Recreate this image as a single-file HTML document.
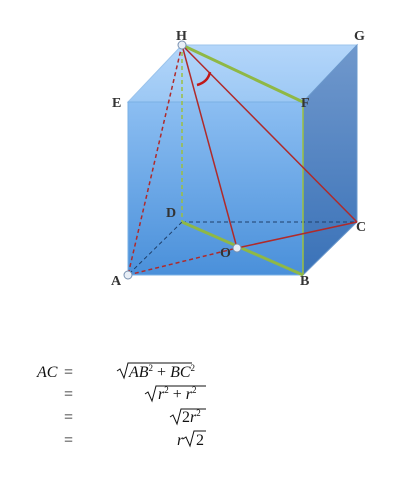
<!DOCTYPE html>
<html><head><meta charset="utf-8"><style>
html,body{margin:0;padding:0;background:#fff;width:413px;height:483px;overflow:hidden}
svg{display:block}
.lbl{font-family:"Liberation Serif",serif;font-size:14px;font-weight:bold;fill:#333}
.m{font-family:"Liberation Serif",serif;font-size:16px;fill:#111}
.i{font-style:italic}
</style></head><body>
<svg width="413" height="483" viewBox="0 0 413 483">
<defs>
<linearGradient id="fg" x1="0" y1="0" x2="0" y2="1"><stop offset="0" stop-color="#8cbef2"/><stop offset="1" stop-color="#4a90da"/></linearGradient>
<linearGradient id="rg" x1="0" y1="0" x2="0" y2="1"><stop offset="0" stop-color="#7098cc"/><stop offset="1" stop-color="#3a72b8"/></linearGradient>
<linearGradient id="tg" x1="0" y1="0" x2="0" y2="1"><stop offset="0" stop-color="#b4d6fa"/><stop offset="1" stop-color="#9cc8f4"/></linearGradient>
</defs>
<polygon points="128,102 182,45 357,45 303,102" fill="url(#tg)" stroke="#9cc4ec" stroke-width="1"/>
<polygon points="303,102 357,45 357,222 303,275" fill="url(#rg)" stroke="#6a98cc" stroke-width="1"/>
<rect x="128" y="102" width="175" height="173" fill="url(#fg)" stroke="#7ab0e4" stroke-width="1"/>
<g stroke="#1f3f6a" stroke-width="1" stroke-dasharray="4,3" fill="none">
<line x1="182" y1="222" x2="357" y2="222"/><line x1="182" y1="222" x2="128" y2="275"/>
</g>
<line x1="182" y1="45" x2="182" y2="222" stroke="#9cc040" stroke-width="1.5" stroke-dasharray="4,3"/>
<line x1="303" y1="102" x2="303" y2="275" stroke="#9cc040" stroke-width="1.5"/>
<line x1="182" y1="45" x2="303" y2="102" stroke="#8fb845" stroke-width="3"/>
<line x1="182" y1="222" x2="303" y2="275" stroke="#8fb845" stroke-width="3"/>
<g stroke="#b02a2a" stroke-width="1.5" fill="none">
<line x1="182" y1="45" x2="128" y2="275" stroke-dasharray="4,3"/>
<line x1="128" y1="275" x2="237" y2="248" stroke-dasharray="4,3"/>
<line x1="237" y1="248" x2="357" y2="222"/>
<line x1="182" y1="45" x2="237" y2="248"/>
<line x1="182" y1="45" x2="357" y2="222"/>
<path d="M197 85 Q208 82 210 72" stroke="#c01818" stroke-width="2.5"/>
</g>
<g fill="#e8eef6" stroke="#7890b0" stroke-width="1">
<circle cx="182" cy="45" r="4"/><circle cx="128" cy="275" r="4"/><circle cx="237" cy="248" r="4"/>
</g>
<text class="lbl" x="176" y="40">H</text>
<text class="lbl" x="354" y="40">G</text>
<text class="lbl" x="112" y="107">E</text>
<text class="lbl" x="301" y="107">F</text>
<text class="lbl" x="166" y="217">D</text>
<text class="lbl" x="356" y="231">C</text>
<text class="lbl" x="220" y="257">O</text>
<text class="lbl" x="111" y="285">A</text>
<text class="lbl" x="300" y="285">B</text>
<g>
<text class="m i" x="37" y="377">AC</text><text class="m" x="64" y="377">=</text>
<text class="m" x="64" y="399">=</text><text class="m" x="64" y="422">=</text><text class="m" x="64" y="445">=</text>
<path d="M117 371 l3 -2 4 9 4 -15 h64" fill="none" stroke="#111" stroke-width="1"/>
<text class="m" x="129" y="377"><tspan class="i">AB</tspan><tspan font-size="9" dy="-6">2</tspan><tspan dy="6"> + </tspan><tspan class="i">BC</tspan><tspan font-size="9" dy="-6">2</tspan></text>
<path d="M145 394 l3 -2 4 9 4 -15 h50" fill="none" stroke="#111" stroke-width="1"/>
<text class="m" x="158" y="399"><tspan class="i">r</tspan><tspan font-size="9" dy="-6">2</tspan><tspan dy="6"> + </tspan><tspan class="i">r</tspan><tspan font-size="9" dy="-6">2</tspan></text>
<path d="M170 417 l3 -2 4 9 4 -15 h25" fill="none" stroke="#111" stroke-width="1"/>
<text class="m" x="182" y="422">2<tspan class="i">r</tspan><tspan font-size="9" dy="-6">2</tspan></text>
<text class="m i" x="177" y="445">r</text>
<path d="M183 439 l3 -2 4 9 4 -15 h12" fill="none" stroke="#111" stroke-width="1"/>
<text class="m" x="196" y="445">2</text>
</g>
</svg>
</body></html>
